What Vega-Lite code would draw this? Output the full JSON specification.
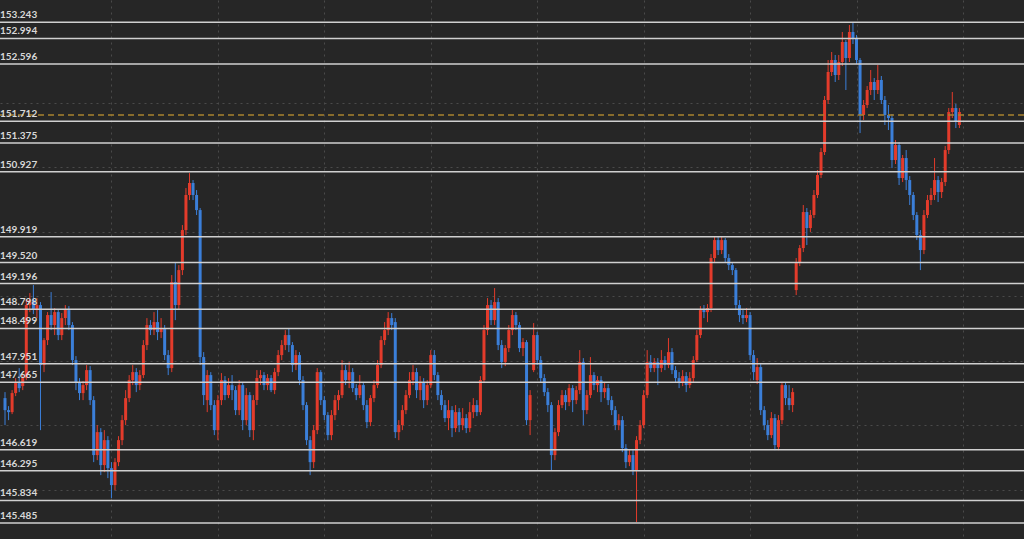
{
"$schema":"https://vega.github.io/schema/vega-lite/v6.json",
"width":1024,"height":539,
"autosize":{"type":"none"},
"padding":0,
"background":"#262626",
"config":{"view":{"stroke":null},"axis":{"domain":false,"ticks":false,"labels":false,"title":null,"gridColor":"#4a4a4a","gridDash":[2,4],"gridWidth":1}},
"datasets":{
"candles":[
{"t":0,"o":147.420,"h":147.513,"l":147.002,"c":147.234},
{"t":1,"o":147.234,"h":147.296,"l":147.079,"c":147.203},
{"t":2,"o":147.203,"h":147.544,"l":147.172,"c":147.498},
{"t":3,"o":147.498,"h":147.730,"l":147.451,"c":147.653},
{"t":4,"o":147.653,"h":147.885,"l":147.513,"c":147.575},
{"t":5,"o":147.606,"h":147.792,"l":147.544,"c":147.730},
{"t":6,"o":147.730,"h":148.939,"l":147.699,"c":148.862},
{"t":7,"o":148.862,"h":149.048,"l":148.753,"c":148.939},
{"t":8,"o":148.939,"h":149.172,"l":148.722,"c":148.784},
{"t":9,"o":148.784,"h":148.970,"l":148.660,"c":148.862},
{"t":10,"o":148.862,"h":148.908,"l":146.924,"c":147.932},
{"t":11,"o":147.932,"h":148.350,"l":147.823,"c":148.319},
{"t":12,"o":148.319,"h":148.753,"l":148.242,"c":148.707},
{"t":13,"o":148.707,"h":149.063,"l":148.474,"c":148.552},
{"t":14,"o":148.552,"h":148.815,"l":148.397,"c":148.753},
{"t":15,"o":148.753,"h":148.800,"l":148.319,"c":148.397},
{"t":16,"o":148.397,"h":148.738,"l":148.319,"c":148.660},
{"t":17,"o":148.660,"h":148.862,"l":148.552,"c":148.784},
{"t":18,"o":148.784,"h":148.846,"l":148.474,"c":148.552},
{"t":19,"o":148.552,"h":148.598,"l":147.932,"c":148.009},
{"t":20,"o":148.009,"h":148.071,"l":147.544,"c":147.668},
{"t":21,"o":147.668,"h":147.730,"l":147.389,"c":147.498},
{"t":22,"o":147.498,"h":147.684,"l":147.389,"c":147.622},
{"t":23,"o":147.622,"h":147.932,"l":147.544,"c":147.854},
{"t":24,"o":147.854,"h":147.916,"l":147.312,"c":147.389},
{"t":25,"o":147.389,"h":147.451,"l":146.428,"c":146.537},
{"t":26,"o":146.537,"h":147.002,"l":146.459,"c":146.893},
{"t":27,"o":146.893,"h":146.955,"l":146.227,"c":146.382},
{"t":28,"o":146.382,"h":146.924,"l":146.273,"c":146.769},
{"t":29,"o":146.769,"h":146.831,"l":146.180,"c":146.335},
{"t":30,"o":146.335,"h":146.428,"l":145.870,"c":146.072},
{"t":31,"o":146.072,"h":146.490,"l":145.994,"c":146.428},
{"t":32,"o":146.428,"h":146.831,"l":146.366,"c":146.769},
{"t":33,"o":146.769,"h":147.157,"l":146.692,"c":147.079},
{"t":34,"o":147.079,"h":147.544,"l":147.002,"c":147.420},
{"t":35,"o":147.420,"h":147.777,"l":147.358,"c":147.699},
{"t":36,"o":147.699,"h":147.932,"l":147.622,"c":147.823},
{"t":37,"o":147.823,"h":147.885,"l":147.513,"c":147.622},
{"t":38,"o":147.622,"h":147.854,"l":147.544,"c":147.777},
{"t":39,"o":147.777,"h":148.319,"l":147.730,"c":148.242},
{"t":40,"o":148.242,"h":148.660,"l":148.164,"c":148.552},
{"t":41,"o":148.552,"h":148.629,"l":148.397,"c":148.474},
{"t":42,"o":148.474,"h":148.753,"l":148.397,"c":148.598},
{"t":43,"o":148.598,"h":148.784,"l":148.319,"c":148.443},
{"t":44,"o":148.443,"h":148.660,"l":148.350,"c":148.505},
{"t":45,"o":148.505,"h":148.552,"l":148.009,"c":148.087},
{"t":46,"o":148.087,"h":148.164,"l":147.777,"c":147.885},
{"t":47,"o":147.885,"h":149.327,"l":147.823,"c":149.218},
{"t":48,"o":149.218,"h":149.528,"l":148.629,"c":148.862},
{"t":49,"o":148.862,"h":149.482,"l":148.784,"c":149.404},
{"t":50,"o":149.404,"h":150.102,"l":149.327,"c":150.024},
{"t":51,"o":150.024,"h":150.675,"l":149.947,"c":150.567},
{"t":52,"o":150.567,"h":150.907,"l":150.489,"c":150.753},
{"t":53,"o":150.753,"h":150.799,"l":150.489,"c":150.567},
{"t":54,"o":150.567,"h":150.644,"l":150.257,"c":150.334},
{"t":55,"o":150.334,"h":150.365,"l":147.932,"c":148.056},
{"t":56,"o":148.056,"h":148.133,"l":147.312,"c":147.467},
{"t":57,"o":147.389,"h":147.854,"l":147.203,"c":147.777},
{"t":58,"o":147.777,"h":147.823,"l":147.234,"c":147.312},
{"t":59,"o":147.312,"h":147.389,"l":146.847,"c":146.924},
{"t":60,"o":146.924,"h":147.467,"l":146.769,"c":147.389},
{"t":61,"o":147.389,"h":147.808,"l":147.312,"c":147.699},
{"t":62,"o":147.699,"h":147.761,"l":147.389,"c":147.467},
{"t":63,"o":147.467,"h":147.730,"l":147.420,"c":147.622},
{"t":64,"o":147.622,"h":147.777,"l":147.389,"c":147.544},
{"t":65,"o":147.544,"h":147.606,"l":147.157,"c":147.234},
{"t":66,"o":147.234,"h":147.699,"l":147.157,"c":147.622},
{"t":67,"o":147.622,"h":147.668,"l":146.924,"c":147.079},
{"t":68,"o":147.079,"h":147.575,"l":147.002,"c":147.467},
{"t":69,"o":147.467,"h":147.513,"l":146.816,"c":146.924},
{"t":70,"o":146.924,"h":147.467,"l":146.769,"c":147.389},
{"t":71,"o":147.389,"h":147.854,"l":147.312,"c":147.730},
{"t":72,"o":147.730,"h":147.854,"l":147.622,"c":147.777},
{"t":73,"o":147.777,"h":147.823,"l":147.544,"c":147.622},
{"t":74,"o":147.622,"h":147.792,"l":147.544,"c":147.730},
{"t":75,"o":147.730,"h":147.777,"l":147.513,"c":147.544},
{"t":76,"o":147.544,"h":147.885,"l":147.482,"c":147.823},
{"t":77,"o":147.823,"h":148.164,"l":147.761,"c":148.087},
{"t":78,"o":148.087,"h":148.319,"l":148.009,"c":148.242},
{"t":79,"o":148.242,"h":148.474,"l":148.164,"c":148.397},
{"t":80,"o":148.397,"h":148.505,"l":148.133,"c":148.242},
{"t":81,"o":148.242,"h":148.288,"l":147.823,"c":147.932},
{"t":82,"o":147.932,"h":148.164,"l":147.854,"c":148.087},
{"t":83,"o":148.087,"h":148.133,"l":147.622,"c":147.699},
{"t":84,"o":147.699,"h":147.761,"l":147.234,"c":147.312},
{"t":85,"o":147.312,"h":147.358,"l":146.692,"c":146.769},
{"t":86,"o":146.769,"h":146.831,"l":146.227,"c":146.428},
{"t":87,"o":146.428,"h":147.002,"l":146.335,"c":146.924},
{"t":88,"o":146.924,"h":147.885,"l":146.862,"c":147.823},
{"t":89,"o":147.823,"h":147.854,"l":147.312,"c":147.389},
{"t":90,"o":147.389,"h":147.451,"l":147.079,"c":147.157},
{"t":91,"o":147.157,"h":147.203,"l":146.769,"c":146.847},
{"t":92,"o":146.847,"h":147.234,"l":146.769,"c":147.157},
{"t":93,"o":147.157,"h":147.467,"l":147.079,"c":147.389},
{"t":94,"o":147.389,"h":147.544,"l":147.234,"c":147.467},
{"t":95,"o":147.467,"h":148.009,"l":147.420,"c":147.854},
{"t":96,"o":147.854,"h":147.932,"l":147.622,"c":147.699},
{"t":97,"o":147.699,"h":147.978,"l":147.575,"c":147.823},
{"t":98,"o":147.823,"h":147.885,"l":147.513,"c":147.575},
{"t":99,"o":147.575,"h":147.637,"l":147.389,"c":147.467},
{"t":100,"o":147.467,"h":147.777,"l":147.420,"c":147.622},
{"t":101,"o":147.622,"h":147.668,"l":147.234,"c":147.312},
{"t":102,"o":147.312,"h":147.389,"l":146.955,"c":147.048},
{"t":103,"o":147.048,"h":147.467,"l":146.986,"c":147.420},
{"t":104,"o":147.420,"h":147.699,"l":147.358,"c":147.622},
{"t":105,"o":147.622,"h":148.009,"l":147.575,"c":147.932},
{"t":106,"o":147.932,"h":148.381,"l":147.885,"c":148.319},
{"t":107,"o":148.319,"h":148.598,"l":148.242,"c":148.474},
{"t":108,"o":148.474,"h":148.753,"l":148.397,"c":148.660},
{"t":109,"o":148.660,"h":148.738,"l":148.474,"c":148.552},
{"t":110,"o":148.598,"h":148.660,"l":146.800,"c":146.893},
{"t":111,"o":146.893,"h":147.079,"l":146.769,"c":147.002},
{"t":112,"o":147.002,"h":147.312,"l":146.924,"c":147.234},
{"t":113,"o":147.234,"h":147.544,"l":147.172,"c":147.467},
{"t":114,"o":147.467,"h":147.823,"l":147.420,"c":147.699},
{"t":115,"o":147.699,"h":147.932,"l":147.622,"c":147.823},
{"t":116,"o":147.823,"h":147.885,"l":147.420,"c":147.544},
{"t":117,"o":147.544,"h":147.761,"l":147.389,"c":147.668},
{"t":118,"o":147.668,"h":147.730,"l":147.265,"c":147.389},
{"t":119,"o":147.389,"h":147.699,"l":147.312,"c":147.622},
{"t":120,"o":147.622,"h":148.164,"l":147.575,"c":148.087},
{"t":121,"o":148.087,"h":148.164,"l":147.699,"c":147.777},
{"t":122,"o":147.777,"h":147.823,"l":147.389,"c":147.467},
{"t":123,"o":147.467,"h":147.544,"l":147.234,"c":147.312},
{"t":124,"o":147.312,"h":147.389,"l":147.048,"c":147.110},
{"t":125,"o":147.110,"h":147.389,"l":146.924,"c":147.234},
{"t":126,"o":147.234,"h":147.296,"l":146.816,"c":146.955},
{"t":127,"o":146.955,"h":147.312,"l":146.893,"c":147.203},
{"t":128,"o":147.203,"h":147.265,"l":146.893,"c":147.002},
{"t":129,"o":147.002,"h":147.265,"l":146.924,"c":147.110},
{"t":130,"o":147.110,"h":147.172,"l":146.878,"c":146.955},
{"t":131,"o":146.955,"h":147.358,"l":146.893,"c":147.203},
{"t":132,"o":147.203,"h":147.420,"l":147.110,"c":147.312},
{"t":133,"o":147.312,"h":147.389,"l":147.141,"c":147.203},
{"t":134,"o":147.203,"h":147.761,"l":147.157,"c":147.699},
{"t":135,"o":147.699,"h":148.552,"l":147.653,"c":148.474},
{"t":136,"o":148.474,"h":148.970,"l":148.397,"c":148.862},
{"t":137,"o":148.862,"h":148.939,"l":148.552,"c":148.629},
{"t":138,"o":148.629,"h":149.125,"l":148.552,"c":148.908},
{"t":139,"o":148.908,"h":148.970,"l":148.164,"c":148.242},
{"t":140,"o":148.242,"h":148.319,"l":147.885,"c":147.978},
{"t":141,"o":147.978,"h":148.242,"l":147.916,"c":148.195},
{"t":142,"o":148.195,"h":148.552,"l":148.133,"c":148.474},
{"t":143,"o":148.474,"h":148.784,"l":148.397,"c":148.707},
{"t":144,"o":148.707,"h":148.753,"l":148.474,"c":148.552},
{"t":145,"o":148.552,"h":148.598,"l":148.133,"c":148.195},
{"t":146,"o":148.195,"h":148.350,"l":148.071,"c":148.288},
{"t":147,"o":148.288,"h":148.319,"l":147.002,"c":147.079},
{"t":148,"o":147.079,"h":147.544,"l":146.847,"c":147.467},
{"t":149,"o":147.854,"h":148.583,"l":147.823,"c":148.397},
{"t":150,"o":148.397,"h":148.443,"l":147.932,"c":148.009},
{"t":151,"o":148.009,"h":148.071,"l":147.668,"c":147.730},
{"t":152,"o":147.730,"h":147.792,"l":147.451,"c":147.513},
{"t":153,"o":147.513,"h":147.575,"l":147.203,"c":147.312},
{"t":154,"o":147.312,"h":147.358,"l":146.304,"c":146.537},
{"t":155,"o":146.537,"h":146.955,"l":146.459,"c":146.893},
{"t":156,"o":146.893,"h":147.389,"l":146.831,"c":147.312},
{"t":157,"o":147.312,"h":147.544,"l":147.265,"c":147.467},
{"t":158,"o":147.467,"h":147.544,"l":147.234,"c":147.358},
{"t":159,"o":147.358,"h":147.637,"l":147.296,"c":147.575},
{"t":160,"o":147.575,"h":147.622,"l":147.203,"c":147.389},
{"t":161,"o":147.389,"h":147.606,"l":147.327,"c":147.544},
{"t":162,"o":147.544,"h":148.164,"l":147.482,"c":147.978},
{"t":163,"o":147.978,"h":148.040,"l":147.002,"c":147.234},
{"t":164,"o":147.234,"h":147.544,"l":147.172,"c":147.467},
{"t":165,"o":147.467,"h":148.056,"l":147.420,"c":147.777},
{"t":166,"o":147.777,"h":147.823,"l":147.544,"c":147.622},
{"t":167,"o":147.622,"h":147.761,"l":147.513,"c":147.699},
{"t":168,"o":147.699,"h":147.761,"l":147.358,"c":147.513},
{"t":169,"o":147.513,"h":147.668,"l":147.420,"c":147.575},
{"t":170,"o":147.575,"h":147.637,"l":147.312,"c":147.389},
{"t":171,"o":147.389,"h":147.451,"l":147.157,"c":147.234},
{"t":172,"o":147.234,"h":147.296,"l":146.924,"c":147.002},
{"t":173,"o":147.002,"h":147.172,"l":146.924,"c":147.079},
{"t":174,"o":147.079,"h":147.141,"l":146.583,"c":146.645},
{"t":175,"o":146.645,"h":146.707,"l":146.335,"c":146.428},
{"t":176,"o":146.428,"h":146.614,"l":146.366,"c":146.537},
{"t":177,"o":146.537,"h":146.614,"l":146.227,"c":146.304},
{"t":178,"o":146.304,"h":146.831,"l":145.498,"c":146.769},
{"t":179,"o":146.769,"h":147.079,"l":146.707,"c":147.002},
{"t":180,"o":147.002,"h":147.544,"l":146.955,"c":147.467},
{"t":181,"o":147.467,"h":148.164,"l":147.420,"c":147.978},
{"t":182,"o":147.978,"h":148.087,"l":147.823,"c":147.885},
{"t":183,"o":147.885,"h":148.040,"l":147.823,"c":147.978},
{"t":184,"o":147.978,"h":148.040,"l":147.622,"c":147.885},
{"t":185,"o":147.885,"h":148.164,"l":147.823,"c":148.009},
{"t":186,"o":148.009,"h":148.071,"l":147.854,"c":147.932},
{"t":187,"o":147.932,"h":148.350,"l":147.885,"c":148.133},
{"t":188,"o":148.133,"h":148.195,"l":147.792,"c":147.854},
{"t":189,"o":147.854,"h":147.916,"l":147.668,"c":147.730},
{"t":190,"o":147.730,"h":147.823,"l":147.575,"c":147.668},
{"t":191,"o":147.668,"h":147.854,"l":147.606,"c":147.761},
{"t":192,"o":147.761,"h":147.823,"l":147.513,"c":147.622},
{"t":193,"o":147.622,"h":147.823,"l":147.575,"c":147.730},
{"t":194,"o":147.730,"h":148.071,"l":147.668,"c":148.009},
{"t":195,"o":148.009,"h":148.474,"l":147.978,"c":148.397},
{"t":196,"o":148.397,"h":148.846,"l":148.350,"c":148.784},
{"t":197,"o":148.784,"h":148.862,"l":148.660,"c":148.753},
{"t":198,"o":148.753,"h":148.877,"l":148.598,"c":148.815},
{"t":199,"o":148.815,"h":149.652,"l":148.753,"c":149.590},
{"t":200,"o":149.590,"h":149.931,"l":149.528,"c":149.869},
{"t":201,"o":149.869,"h":149.916,"l":149.637,"c":149.714},
{"t":202,"o":149.714,"h":149.931,"l":149.652,"c":149.869},
{"t":203,"o":149.869,"h":149.900,"l":149.528,"c":149.590},
{"t":204,"o":149.590,"h":149.652,"l":149.404,"c":149.482},
{"t":205,"o":149.482,"h":149.528,"l":149.327,"c":149.404},
{"t":206,"o":149.404,"h":149.435,"l":148.784,"c":148.862},
{"t":207,"o":148.862,"h":148.939,"l":148.598,"c":148.707},
{"t":208,"o":148.707,"h":148.784,"l":148.567,"c":148.660},
{"t":209,"o":148.660,"h":148.815,"l":148.598,"c":148.707},
{"t":210,"o":148.707,"h":148.753,"l":148.009,"c":148.087},
{"t":211,"o":148.087,"h":148.164,"l":147.699,"c":147.823},
{"t":212,"o":147.699,"h":148.040,"l":147.637,"c":147.901},
{"t":213,"o":147.901,"h":147.947,"l":147.157,"c":147.234},
{"t":214,"o":147.234,"h":147.296,"l":146.924,"c":147.002},
{"t":215,"o":147.002,"h":147.079,"l":146.769,"c":146.847},
{"t":216,"o":146.847,"h":147.203,"l":146.800,"c":147.110},
{"t":217,"o":147.110,"h":147.172,"l":146.614,"c":146.692},
{"t":218,"o":146.661,"h":147.157,"l":146.614,"c":147.079},
{"t":219,"o":147.079,"h":147.653,"l":147.017,"c":147.622},
{"t":220,"o":147.622,"h":147.668,"l":147.312,"c":147.420},
{"t":221,"o":147.420,"h":147.622,"l":147.234,"c":147.312},
{"t":222,"o":147.312,"h":147.575,"l":147.203,"c":147.513},
{"t":223,"o":149.094,"h":149.590,"l":149.017,"c":149.528},
{"t":224,"o":149.528,"h":149.792,"l":149.466,"c":149.745},
{"t":225,"o":149.745,"h":150.412,"l":149.683,"c":150.303},
{"t":226,"o":150.303,"h":150.365,"l":149.792,"c":150.055},
{"t":227,"o":150.055,"h":150.334,"l":149.993,"c":150.257},
{"t":228,"o":150.257,"h":150.644,"l":150.210,"c":150.567},
{"t":229,"o":150.567,"h":150.954,"l":150.520,"c":150.877},
{"t":230,"o":150.877,"h":151.295,"l":150.830,"c":151.233},
{"t":231,"o":151.233,"h":152.101,"l":151.187,"c":152.039},
{"t":232,"o":152.039,"h":152.659,"l":151.977,"c":152.473},
{"t":233,"o":152.473,"h":152.783,"l":152.411,"c":152.659},
{"t":234,"o":152.659,"h":152.737,"l":152.318,"c":152.427},
{"t":235,"o":152.427,"h":152.737,"l":152.349,"c":152.628},
{"t":236,"o":152.628,"h":153.093,"l":152.566,"c":152.938},
{"t":237,"o":152.938,"h":152.969,"l":152.194,"c":152.690},
{"t":238,"o":152.690,"h":153.202,"l":152.628,"c":153.093},
{"t":239,"o":153.093,"h":153.248,"l":152.907,"c":153.000},
{"t":240,"o":153.000,"h":153.046,"l":152.597,"c":152.659},
{"t":241,"o":152.659,"h":152.690,"l":151.527,"c":151.807},
{"t":242,"o":151.807,"h":152.039,"l":151.729,"c":151.962},
{"t":243,"o":151.962,"h":152.256,"l":151.915,"c":152.194},
{"t":244,"o":152.194,"h":152.504,"l":152.117,"c":152.318},
{"t":245,"o":152.318,"h":152.380,"l":152.039,"c":152.194},
{"t":246,"o":152.194,"h":152.582,"l":152.132,"c":152.349},
{"t":247,"o":152.349,"h":152.411,"l":151.977,"c":152.039},
{"t":248,"o":152.039,"h":152.101,"l":151.652,"c":151.807},
{"t":249,"o":151.807,"h":151.962,"l":151.574,"c":151.760},
{"t":250,"o":151.760,"h":151.822,"l":150.985,"c":151.109},
{"t":251,"o":151.109,"h":151.419,"l":151.047,"c":151.342},
{"t":252,"o":151.342,"h":151.388,"l":150.722,"c":150.830},
{"t":253,"o":150.830,"h":151.187,"l":150.768,"c":151.140},
{"t":254,"o":151.140,"h":151.264,"l":150.644,"c":150.799},
{"t":255,"o":150.799,"h":150.861,"l":150.412,"c":150.567},
{"t":256,"o":150.567,"h":150.613,"l":150.179,"c":150.257},
{"t":257,"o":150.257,"h":150.303,"l":149.869,"c":149.947},
{"t":258,"o":149.947,"h":150.024,"l":149.404,"c":149.714},
{"t":259,"o":149.714,"h":150.334,"l":149.652,"c":150.257},
{"t":260,"o":150.257,"h":150.567,"l":150.210,"c":150.489},
{"t":261,"o":150.489,"h":150.675,"l":150.412,"c":150.567},
{"t":262,"o":150.567,"h":151.140,"l":150.489,"c":150.799},
{"t":263,"o":150.799,"h":150.861,"l":150.458,"c":150.613},
{"t":264,"o":150.613,"h":150.830,"l":150.520,"c":150.768},
{"t":265,"o":150.768,"h":151.326,"l":150.706,"c":151.264},
{"t":266,"o":151.264,"h":151.915,"l":151.202,"c":151.853},
{"t":267,"o":151.853,"h":152.163,"l":151.760,"c":151.915},
{"t":268,"o":151.915,"h":151.977,"l":151.605,"c":151.698},
{"t":269,"o":151.652,"h":151.915,"l":151.605,"c":151.853}
],
"levels":[
{"p":153.243,"label":"153.243"},
{"p":152.994,"label":"152.994"},
{"p":152.596,"label":"152.596"},
{"p":151.712,"label":"151.712"},
{"p":151.375,"label":"151.375"},
{"p":150.927,"label":"150.927"},
{"p":149.919,"label":"149.919"},
{"p":149.520,"label":"149.520"},
{"p":149.196,"label":"149.196"},
{"p":148.798,"label":"148.798"},
{"p":148.499,"label":"148.499"},
{"p":147.951,"label":"147.951"},
{"p":147.665,"label":"147.665"},
{"p":146.619,"label":"146.619"},
{"p":146.295,"label":"146.295"},
{"p":145.834,"label":"145.834"},
{"p":145.485,"label":"145.485"}
],
"current":[{"p":151.807}]
},
"layer":[
{
"data":{"name":"candles"},
"mark":{"type":"rule","strokeWidth":1},
"encoding":{
"x":{"field":"t","type":"quantitative","scale":{"domain":[0,285.8],"nice":false,"zero":false},"axis":{"grid":true,"values":[30,60,90,120,150,180,210,240,270]}},
"y":{"field":"l","type":"quantitative","scale":{"domain":[145.237,153.589],"nice":false,"zero":false},"axis":{"grid":true,"values":[146,147,148,149,150,151,152,153]}},
"y2":{"field":"h"},
"color":{"condition":{"test":"datum.c >= datum.o","value":"#e33b2b"},"value":"#3b7fd9"}
}
},
{
"data":{"name":"candles"},
"mark":{"type":"bar","size":3},
"encoding":{
"x":{"field":"t","type":"quantitative"},
"y":{"field":"o","type":"quantitative"},
"y2":{"field":"c"},
"color":{"condition":{"test":"datum.c >= datum.o","value":"#e33b2b"},"value":"#3b7fd9"}
}
},
{
"data":{"name":"levels"},
"mark":{"type":"rule","color":"#d0d0d0","strokeWidth":1.5},
"encoding":{"y":{"field":"p","type":"quantitative"}}
},
{
"data":{"name":"current"},
"mark":{"type":"rule","color":"#a8832f","strokeWidth":1.5,"strokeDash":[6,4]},
"encoding":{"y":{"field":"p","type":"quantitative"}}
},
{
"data":{"name":"levels"},
"mark":{"type":"text","align":"left","baseline":"alphabetic","dx":-5,"dy":-4,"font":"Lato","fontSize":10,"fontWeight":"bold","color":"#d8d8d8"},
"encoding":{"y":{"field":"p","type":"quantitative"},"x":{"datum":0,"type":"quantitative"},"text":{"field":"label"}}
}
]
}
